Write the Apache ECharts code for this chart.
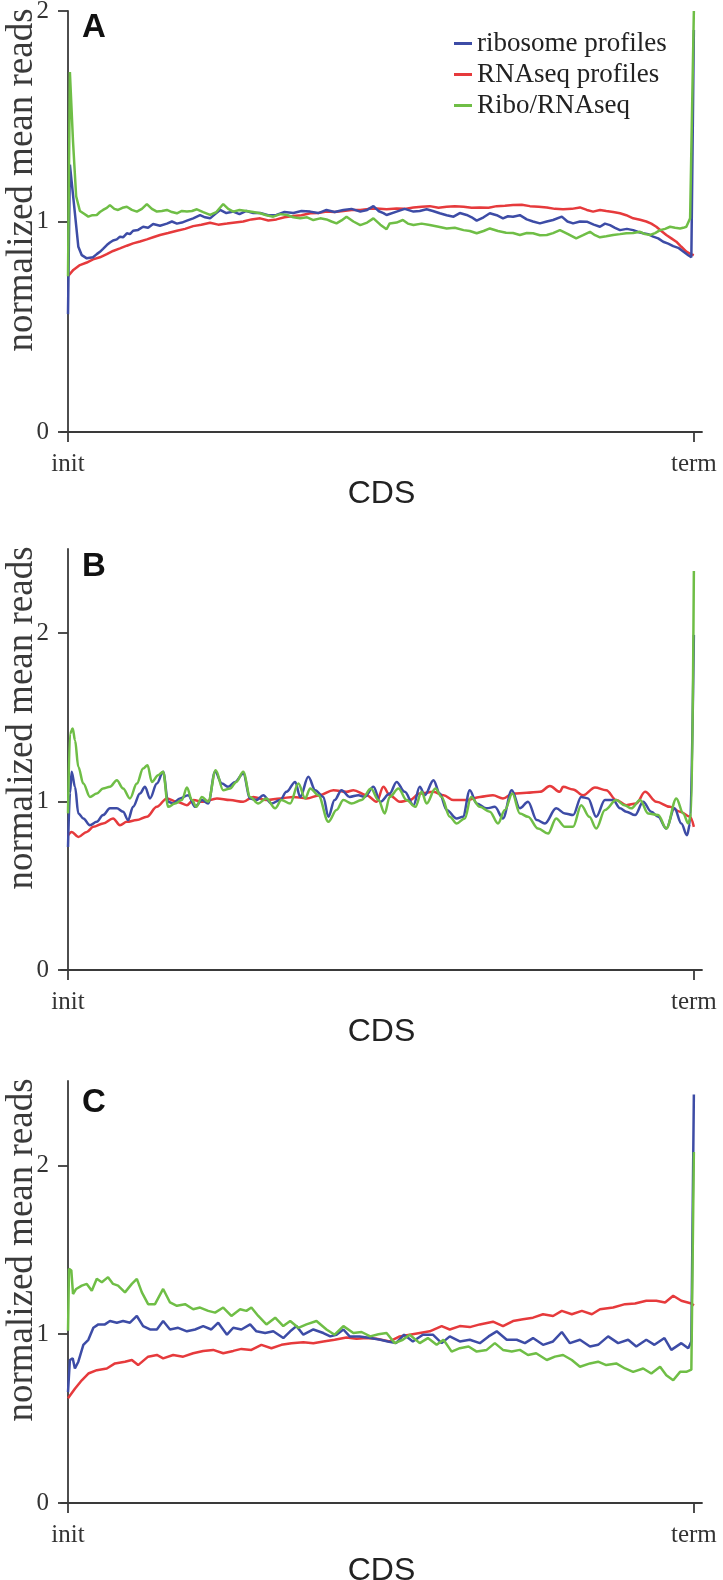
<!DOCTYPE html>
<html>
<head>
<meta charset="utf-8">
<script src="https://cdn.jsdelivr.net/npm/echarts@6/dist/echarts.min.js"></script>
<style>
html,body{margin:0;padding:0;background:#fff;}
#chart{width:723px;height:1580px;}
</style>
</head>
<body>
<div id="chart"></div>
<script>
// ---------- data (position along CDS in %, normalized mean reads) ----------
const seriesNames = ['ribosome profiles', 'RNAseq profiles', 'Ribo/RNAseq'];
const panelLetters = ['A', 'B', 'C'];
const xTickPos = [0, 100];
const xTickLabels = ['init', 'term'];
const yTickValues = [0, 1, 2];
const yMax = [2, 2.5, 2.5];

const riboA = [[0,0.56],[0.3,1.27],[1.1,1.04],[1.65,0.88],[2.2,0.84],[3.0,0.825],[4.0,0.83],[4.6,0.845],[5.1,0.856],[5.6,0.87],[6.2,0.888],[6.7,0.9],[7.2,0.91],[7.8,0.915],[8.3,0.928],[8.8,0.925],[9.4,0.944],[9.9,0.94],[10.4,0.956],[11.2,0.96],[12.0,0.975],[12.8,0.97],[13.6,0.988],[14.7,0.98],[15.8,0.99],[16.6,1.0],[17.4,0.99],[18.2,0.995],[19.0,1.004],[20.0,1.015],[21.1,1.03],[21.9,1.02],[22.7,1.015],[23.5,1.035],[24.3,1.055],[25.3,1.04],[26.4,1.047],[27.4,1.035],[28.5,1.05],[29.6,1.04],[30.7,1.04],[32.0,1.03],[33.3,1.031],[34.6,1.045],[36.0,1.04],[37.3,1.05],[38.7,1.047],[40.0,1.04],[41.3,1.055],[42.6,1.045],[44.0,1.055],[45.3,1.06],[46.7,1.047],[47.8,1.055],[48.8,1.073],[49.6,1.05],[50.4,1.04],[50.9,1.031],[52.5,1.047],[53.8,1.06],[55.2,1.047],[56.2,1.05],[57.3,1.058],[58.3,1.05],[59.4,1.039],[60.5,1.03],[61.6,1.023],[62.6,1.04],[63.7,1.031],[64.5,1.02],[65.3,1.004],[66.4,1.02],[67.4,1.039],[68.5,1.03],[69.5,1.015],[70.3,1.025],[71.1,1.023],[72.2,1.03],[73.3,1.01],[74.3,1.0],[75.4,0.991],[76.5,1.0],[77.5,1.007],[78.9,1.023],[79.8,1.0],[80.7,0.991],[81.8,1.0],[82.9,0.999],[84.0,0.985],[85.0,0.975],[85.8,0.99],[86.6,0.983],[87.4,0.97],[88.2,0.959],[89.3,0.965],[90.3,0.959],[91.1,0.95],[91.9,0.944],[92.7,0.94],[93.5,0.928],[94.3,0.92],[95.1,0.904],[95.9,0.895],[96.7,0.883],[97.5,0.875],[98.3,0.857],[99.1,0.84],[99.6,0.83],[100,1.91]];
const rnaA = [[0,0.74],[0.85,0.77],[1.9,0.793],[3.0,0.805],[4.0,0.82],[5.1,0.83],[6.2,0.845],[7.2,0.86],[8.3,0.872],[9.4,0.885],[10.4,0.896],[11.5,0.905],[12.6,0.915],[13.6,0.925],[14.7,0.936],[16.0,0.945],[17.4,0.956],[18.7,0.965],[20.0,0.978],[21.3,0.985],[22.7,0.994],[24.0,0.985],[25.4,0.99],[26.7,0.995],[28.0,1.0],[29.3,1.01],[30.7,1.015],[32.0,1.005],[33.3,1.01],[34.6,1.02],[36.0,1.026],[37.3,1.03],[38.7,1.039],[40.0,1.04],[41.3,1.047],[42.6,1.045],[44.0,1.05],[45.3,1.055],[46.7,1.055],[48.0,1.06],[49.3,1.062],[50.9,1.058],[52.5,1.062],[53.8,1.06],[55.2,1.067],[56.5,1.07],[57.8,1.073],[59.2,1.065],[60.5,1.07],[61.8,1.072],[63.2,1.07],[64.5,1.065],[65.8,1.067],[67.2,1.065],[68.5,1.073],[69.8,1.075],[71.1,1.078],[72.5,1.08],[73.8,1.073],[75.2,1.07],[76.5,1.067],[77.8,1.06],[79.1,1.058],[80.5,1.06],[81.8,1.067],[82.9,1.055],[83.9,1.047],[85.0,1.055],[86.0,1.05],[87.1,1.045],[88.2,1.039],[89.2,1.03],[90.3,1.015],[91.4,1.008],[92.4,1.0],[93.2,0.99],[94.0,0.975],[94.8,0.955],[95.6,0.936],[96.4,0.92],[97.2,0.904],[98.0,0.88],[98.8,0.857],[99.5,0.845],[100,0.84]];
const ratioA = [[0,0.74],[0.3,1.71],[0.8,1.38],[1.3,1.12],[1.9,1.05],[2.45,1.039],[3.25,1.023],[3.9,1.03],[4.6,1.031],[5.1,1.045],[5.6,1.055],[6.2,1.065],[6.7,1.078],[7.4,1.06],[8.0,1.055],[8.7,1.065],[9.4,1.07],[10.2,1.055],[11.0,1.047],[11.8,1.06],[12.6,1.083],[13.4,1.06],[14.2,1.047],[15.0,1.05],[15.8,1.055],[16.6,1.045],[17.4,1.039],[18.2,1.05],[19.0,1.047],[19.8,1.05],[20.6,1.058],[21.6,1.045],[22.7,1.031],[23.7,1.045],[24.8,1.083],[25.6,1.06],[26.4,1.047],[27.4,1.055],[28.5,1.05],[29.6,1.045],[30.7,1.039],[31.7,1.03],[32.8,1.023],[33.9,1.035],[35.0,1.031],[36.0,1.02],[37.1,1.015],[38.2,1.02],[39.2,1.007],[40.3,1.015],[41.3,1.01],[42.1,1.0],[42.9,0.991],[43.7,1.005],[44.5,1.023],[45.6,1.0],[46.7,0.983],[47.8,0.995],[48.8,1.015],[49.9,0.985],[50.9,0.963],[51.4,0.991],[52.5,0.995],[53.5,1.007],[54.3,0.99],[55.2,0.983],[56.5,0.99],[57.8,0.983],[59.2,0.975],[60.5,0.967],[61.8,0.97],[63.2,0.959],[64.2,0.955],[65.3,0.944],[66.4,0.955],[67.4,0.967],[68.7,0.955],[70.0,0.947],[71.1,0.945],[72.2,0.936],[73.3,0.945],[74.3,0.944],[75.4,0.935],[76.5,0.936],[77.5,0.945],[78.6,0.959],[79.9,0.94],[81.2,0.92],[82.3,0.935],[83.4,0.951],[84.2,0.935],[85.0,0.925],[86.0,0.93],[87.1,0.936],[88.2,0.94],[89.2,0.944],[90.3,0.945],[91.4,0.951],[92.2,0.94],[93.0,0.936],[93.8,0.945],[94.6,0.959],[95.4,0.965],[96.2,0.975],[97.0,0.97],[97.8,0.967],[98.3,0.97],[98.8,0.975],[99.4,1.015],[100,2.0]];

const riboB = [[0,0.73],[0.32,1.05],[0.58,1.177],[1.12,1.088],[1.65,0.93],[2.45,0.9],[3.5,0.86],[4.6,0.88],[5.6,0.92],[6.7,0.96],[7.8,0.96],[8.8,0.94],[9.6,0.89],[10.4,0.97],[11.5,1.048],[12.3,1.088],[13.1,1.019],[14.2,1.107],[15.2,1.177],[16.0,0.999],[16.8,0.989],[17.9,1.019],[19.2,1.038],[20.3,0.969],[21.4,1.009],[22.4,0.989],[23.5,1.177],[24.6,1.107],[25.6,1.088],[26.7,1.117],[28.0,1.167],[29.1,1.019],[30.1,1.009],[31.2,1.038],[32.5,0.989],[33.9,1.009],[34.9,1.058],[36.3,1.117],[37.1,1.028],[38.4,1.147],[39.5,1.068],[40.8,1.028],[41.6,0.91],[42.6,1.009],[43.7,1.068],[45.0,1.028],[46.4,1.038],[47.4,1.028],[48.8,1.088],[49.9,0.999],[51.4,1.048],[52.5,1.117],[53.8,1.058],[55.2,0.979],[56.2,1.088],[57.0,1.038],[58.4,1.127],[59.4,1.048],[60.5,0.95],[62.1,0.9],[63.1,0.91],[64.2,1.068],[65.3,0.989],[66.9,0.96],[68.2,0.969],[69.5,0.9],[70.9,1.068],[72.2,0.96],[73.5,0.999],[74.9,0.89],[76.2,0.87],[78.0,0.96],[79.4,0.93],[80.7,0.92],[82.0,1.028],[83.1,1.019],[84.4,0.91],[85.8,1.009],[87.1,1.009],[88.2,0.96],[89.2,0.94],[90.6,0.92],[91.9,0.999],[93.2,0.94],[94.3,0.91],[95.6,0.84],[96.9,0.96],[98.0,0.87],[98.9,0.8],[99.4,0.87],[100,1.99]];
const rnaB = [[0,0.8],[0.58,0.82],[1.65,0.79],[3.0,0.82],[4.05,0.85],[5.6,0.87],[7.2,0.9],[8.3,0.86],[9.4,0.88],[11.0,0.89],[12.6,0.91],[14.2,0.969],[15.8,1.019],[17.4,0.999],[19.0,0.979],[20.0,1.009],[21.6,0.999],[23.8,1.019],[25.9,1.009],[28.0,0.999],[29.6,1.028],[31.7,1.009],[33.9,1.019],[36.0,1.028],[38.1,1.019],[40.2,1.038],[42.4,1.068],[44.5,1.058],[45.6,1.068],[47.7,1.038],[49.3,0.999],[50.4,1.088],[51.4,1.038],[53.0,0.999],[54.6,1.009],[56.2,1.048],[58.4,1.058],[60.0,1.038],[61.6,1.009],[63.7,1.009],[65.8,1.028],[67.9,1.038],[69.5,1.019],[71.1,1.048],[73.3,1.052],[75.4,1.058],[77.0,1.092],[78.6,1.058],[79.1,1.088],[80.7,1.072],[82.3,1.038],[84.2,1.084],[86.0,1.068],[87.6,1.009],[89.2,0.979],[90.8,0.989],[92.2,1.058],[94.0,0.999],[96.2,0.969],[97.8,0.94],[99.4,0.91],[100,0.85]];
const ratioB = [[0,0.93],[0.32,1.404],[0.75,1.434],[1.12,1.364],[1.65,1.206],[2.45,1.107],[3.5,1.028],[4.6,1.048],[5.6,1.078],[6.7,1.088],[7.8,1.127],[8.8,1.078],[9.9,1.019],[11.0,1.107],[12.0,1.196],[12.7,1.216],[13.4,1.117],[14.4,1.157],[15.2,1.177],[16.0,0.969],[17.1,0.989],[18.2,1.009],[19.0,1.084],[19.8,1.009],[20.5,0.969],[21.4,1.028],[22.4,0.999],[23.6,1.186],[24.8,1.068],[25.9,1.078],[26.9,1.117],[28.0,1.177],[29.1,1.028],[30.4,0.989],[31.7,1.019],[33.1,0.96],[34.1,1.009],[35.5,0.989],[36.8,1.107],[37.9,1.019],[38.7,1.078],[40.0,1.038],[41.6,0.88],[42.9,0.95],[44.0,1.009],[45.3,0.989],[46.9,1.009],[48.4,1.078],[49.6,1.009],[50.6,0.93],[51.4,1.028],[52.8,1.078],[54.1,1.009],[55.5,0.969],[56.5,1.058],[57.3,0.989],[58.7,1.078],[59.7,1.028],[61.0,0.91],[62.1,0.87],[63.4,0.9],[64.4,1.028],[65.8,0.969],[67.4,0.94],[68.7,0.87],[69.8,0.95],[71.0,1.048],[72.2,0.93],[73.5,0.91],[75.1,0.84],[76.7,0.81],[78.0,0.9],[79.4,0.85],[80.7,0.85],[82.0,0.979],[83.3,0.91],[84.4,0.84],[85.8,0.95],[87.6,1.009],[88.9,0.979],[90.0,0.96],[91.4,1.009],[92.7,0.93],[94.3,0.92],[95.6,0.84],[97.2,1.019],[98.3,0.93],[99.1,0.87],[99.6,0.93],[100,2.37]];

const riboC = [[0,0.657],[0.3,0.847],[0.75,0.857],[1.1,0.797],[1.65,0.837],[2.45,0.937],[3.25,0.967],[4.05,1.038],[4.85,1.058],[5.9,1.058],[6.7,1.078],[7.8,1.068],[8.8,1.078],[9.9,1.068],[11.0,1.108],[12.0,1.048],[13.1,1.028],[14.2,1.028],[15.2,1.078],[16.3,1.028],[17.6,1.038],[19.0,1.017],[20.3,1.028],[21.6,1.048],[22.9,1.028],[24.0,1.068],[25.4,0.997],[26.4,1.038],[27.7,1.028],[29.1,1.058],[30.1,1.017],[31.5,1.007],[32.8,1.017],[34.4,0.977],[35.5,1.017],[36.5,1.048],[37.6,0.997],[39.2,1.028],[40.8,1.007],[41.9,0.987],[42.9,0.997],[44.0,1.028],[45.0,0.987],[46.6,0.987],[48.3,0.977],[49.9,0.967],[51.1,0.957],[52.4,0.947],[53.7,0.997],[55.1,0.957],[56.7,0.997],[58.3,0.997],[59.7,0.947],[61.0,0.987],[62.6,0.957],[64.2,0.967],[65.8,0.947],[67.2,0.987],[68.5,1.017],[70.1,0.967],[71.7,0.967],[73.0,0.947],[74.3,0.977],[75.9,0.937],[77.5,0.957],[78.9,1.013],[80.2,0.947],[81.8,0.967],[83.4,0.927],[84.7,0.937],[86.3,0.987],[87.9,0.947],[89.5,0.967],[90.8,0.927],[92.4,0.967],[93.7,0.937],[95.3,0.977],[96.4,0.907],[98.0,0.947],[99.1,0.917],[99.6,0.957],[100,2.42]];
const rnaC = [[0,0.62],[1.1,0.677],[2.2,0.727],[3.25,0.767],[4.6,0.787],[6.2,0.797],[7.5,0.827],[9.1,0.837],[10.2,0.847],[11.2,0.817],[12.8,0.867],[14.2,0.877],[15.2,0.857],[16.8,0.877],[18.4,0.867],[20.0,0.887],[21.6,0.901],[23.2,0.907],[24.8,0.887],[26.4,0.901],[27.7,0.913],[29.3,0.907],[30.9,0.937],[32.5,0.917],[34.1,0.937],[35.7,0.947],[37.6,0.953],[39.2,0.947],[40.8,0.957],[42.6,0.967],[44.5,0.981],[46.1,0.973],[47.7,0.977],[49.3,0.973],[51.4,0.957],[53.0,0.987],[54.6,0.997],[56.2,1.007],[57.8,1.017],[59.7,1.048],[61.0,1.028],[62.6,1.048],[64.2,1.042],[65.8,1.058],[67.9,1.074],[69.5,1.048],[71.1,1.078],[72.7,1.088],[74.3,1.098],[75.9,1.118],[77.5,1.108],[78.9,1.138],[80.5,1.118],[82.1,1.138],[83.7,1.118],[85.0,1.148],[87.1,1.158],[89.0,1.178],[90.6,1.182],[92.4,1.198],[94.0,1.198],[95.4,1.188],[96.7,1.228],[98.0,1.198],[99.6,1.182],[100,1.17]];
const ratioC = [[0,1.02],[0.16,1.388],[0.53,1.378],[0.8,1.238],[1.3,1.268],[2.2,1.288],[3.0,1.298],[3.8,1.258],[4.6,1.328],[5.4,1.308],[6.4,1.338],[7.2,1.298],[8.0,1.288],[9.1,1.248],[10.2,1.298],[11.0,1.328],[11.8,1.248],[12.8,1.178],[13.9,1.178],[15.2,1.268],[16.3,1.188],[17.4,1.168],[18.7,1.178],[20.0,1.148],[21.1,1.158],[22.4,1.138],[23.5,1.128],[24.8,1.158],[26.1,1.108],[27.5,1.148],[28.5,1.138],[29.3,1.158],[30.4,1.108],[31.7,1.058],[33.1,1.098],[34.4,1.048],[35.5,1.078],[36.8,1.038],[38.1,1.058],[39.7,1.078],[41.3,1.028],[42.6,0.997],[44.0,1.048],[45.6,1.007],[46.9,1.013],[48.3,0.987],[49.6,1.0],[50.9,1.007],[52.2,0.947],[53.5,0.967],[54.6,0.997],[56.2,0.947],[57.5,0.977],[58.9,0.937],[60.0,0.967],[61.3,0.897],[62.6,0.917],[64.0,0.927],[65.3,0.897],[66.9,0.907],[68.2,0.947],[69.5,0.907],[70.9,0.897],[72.2,0.907],[73.5,0.877],[74.8,0.887],[76.5,0.847],[77.8,0.867],[79.1,0.877],[80.5,0.847],[81.8,0.807],[83.4,0.827],[84.7,0.837],[86.0,0.817],[87.6,0.827],[89.0,0.797],[90.3,0.777],[91.9,0.797],[93.2,0.767],[94.6,0.807],[95.6,0.757],[96.7,0.727],[97.8,0.777],[98.8,0.777],[99.6,0.79],[100,2.08]];

// ---------- styling / layout ----------
const COLORS = {ribo: '#3d4ca6', rna: '#e63a3c', ratio: '#6fbe46'};
const SERIF = '"Liberation Serif", "Times New Roman", serif';
const SANS = '"Liberation Sans", Arial, sans-serif';
const AXIS_COLOR = '#3a3a3a';
const grids = [
  {left: 61, top: 11, width: 641, height: 421},
  {left: 61, top: 549, width: 641, height: 421},
  {left: 61, top: 1081, width: 641, height: 422}
];
const nameGaps = [42, 44, 52];
const letterOffsets = [17, 18, 22];
const panels = [
  {ribo: riboA, rna: rnaA, ratio: ratioA},
  {ribo: riboB, rna: rnaB, ratio: ratioB},
  {ribo: riboC, rna: rnaC, ratio: ratioC}
];

const chart = echarts.init(document.getElementById('chart'), null, {renderer: 'canvas'});

const xAxes = [], yAxes = [], series = [], graphics = [];
grids.forEach((g, i) => {
  xAxes.push({
    type: 'value', gridIndex: i, min: -1.12, max: 101.3,
    splitLine: {show: false},
    axisLine: {show: true, onZero: false, lineStyle: {color: AXIS_COLOR, width: 1.8}},
    axisTick: {show: true, customValues: xTickPos, length: 10, lineStyle: {color: AXIS_COLOR, width: 1.8}},
    axisLabel: {show: true, customValues: xTickPos, margin: 20,
      formatter: v => xTickLabels[xTickPos.indexOf(v)] || '',
      fontFamily: SERIF, fontSize: 25, color: '#333'},
    name: 'CDS', nameLocation: 'middle', nameGap: nameGaps[i],
    nameTextStyle: {fontFamily: SANS, fontSize: 32, color: '#222'}
  });
  yAxes.push({
    type: 'value', gridIndex: i, min: 0, max: yMax[i],
    splitLine: {show: false},
    axisLine: {show: true, lineStyle: {color: AXIS_COLOR, width: 1.8}},
    axisTick: {show: true, customValues: yTickValues, length: 10, lineStyle: {color: AXIS_COLOR, width: 1.8}},
    axisLabel: {show: true, customValues: yTickValues, margin: 12,
      fontFamily: SERIF, fontSize: 25, color: '#333'}
  });
  const p = panels[i];
  [['rna', 1], ['ribo', 0], ['ratio', 2]].forEach(([k, n]) => {
    series.push({
      type: 'line', name: seriesNames[n], xAxisIndex: i, yAxisIndex: i,
      data: p[k], showSymbol: false, symbol: 'none', clip: false,
      smooth: i === 1 ? 0.35 : false, smoothMonotone: 'x',
      lineStyle: {color: COLORS[k], width: 2.5},
      itemStyle: {color: COLORS[k]},
      emphasis: {disabled: true}
    });
  });
  graphics.push({
    type: 'text', x: 22, y: g.top + 169, rotation: Math.PI / 2,
    style: {text: 'normalized mean reads', font: '37px ' + SERIF, fill: '#3a3a3a',
      align: 'center', verticalAlign: 'middle'}
  });
  graphics.push({
    type: 'text', x: 94, y: g.top + letterOffsets[i],
    style: {text: panelLetters[i], font: 'bold 33px ' + SANS, fill: '#111',
      align: 'center', verticalAlign: 'middle'}
  });
});

chart.setOption({
  animation: false,
  backgroundColor: '#fff',
  grid: grids.map(g => Object.assign({containLabel: false, outerBoundsMode: 'none'}, g)),
  xAxis: xAxes,
  yAxis: yAxes,
  legend: {
    data: [seriesNames[0], seriesNames[1], seriesNames[2]],
    orient: 'vertical', left: 449, top: 25,
    itemWidth: 18, itemHeight: 3, itemGap: 4, icon: 'rect',
    selectedMode: false,
    textStyle: {fontFamily: SERIF, fontSize: 27, color: '#222', lineHeight: 27}
  },
  graphic: graphics,
  series: series
});
</script>
</body>
</html>
